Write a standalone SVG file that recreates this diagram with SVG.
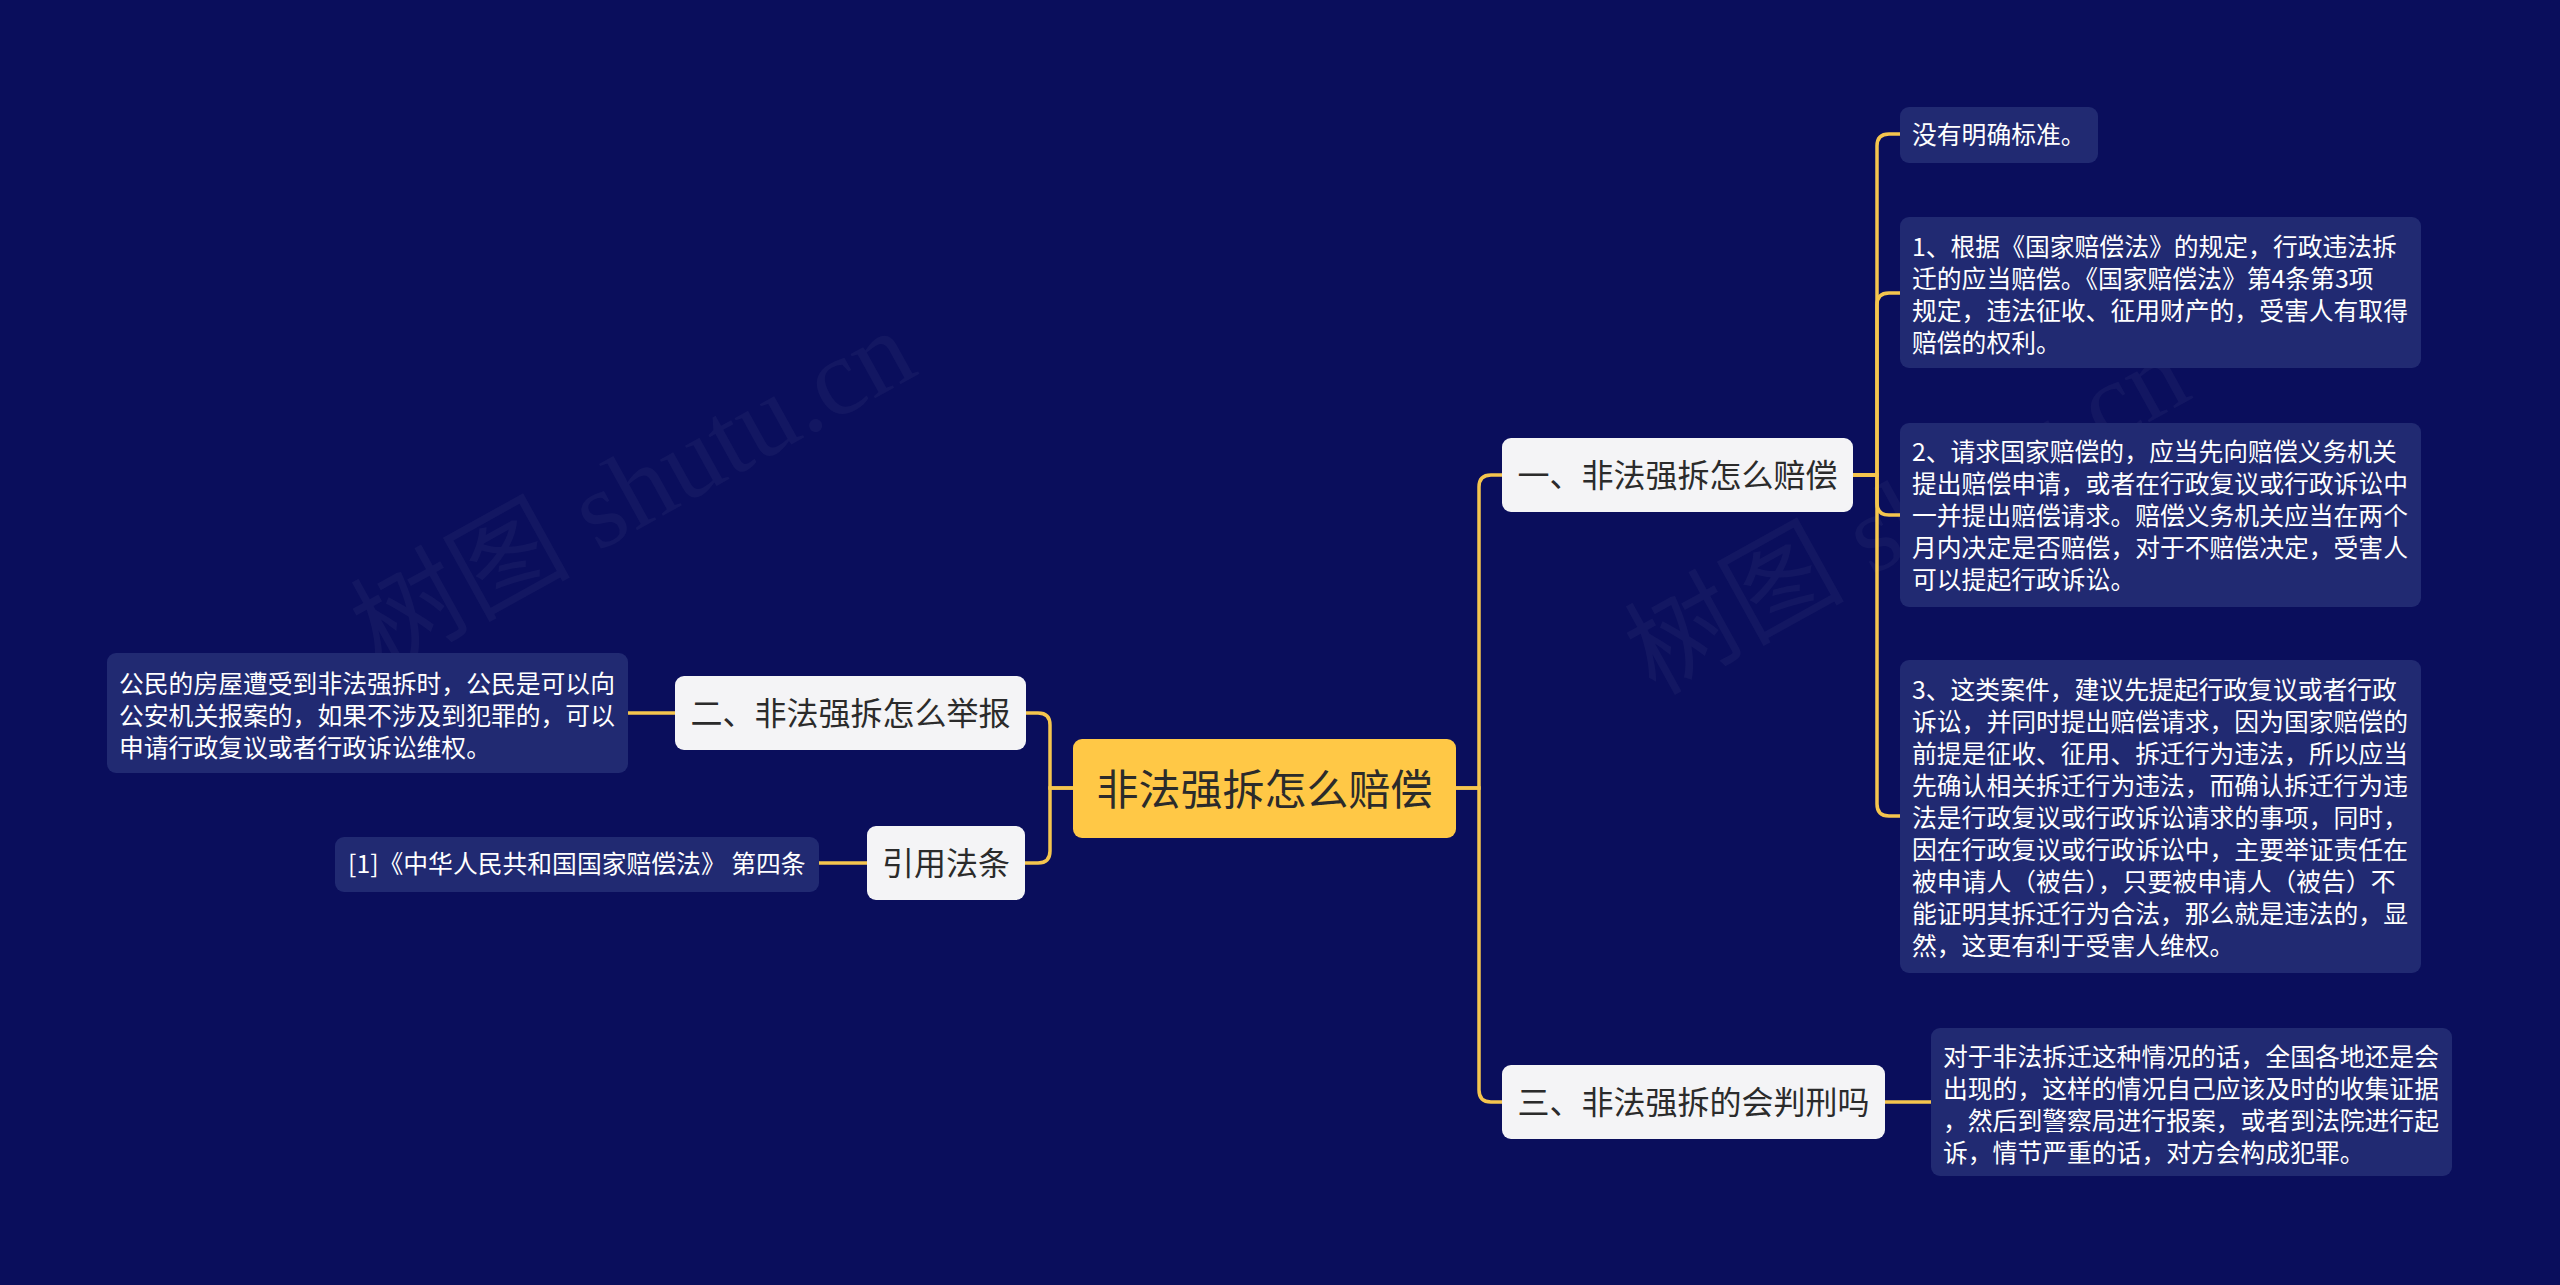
<svg xmlns="http://www.w3.org/2000/svg" width="2560" height="1285" viewBox="0 0 2560 1285">
<defs>
<style>
.bg{fill:#0A0E5C}
.wm{font-family:"Liberation Serif","Noto Sans CJK SC",serif;font-size:110px;fill:#ffffff;fill-opacity:0.04}
.conn path{fill:none;stroke:#F5C54E;stroke-width:3.5;stroke-linecap:round}
.root rect{fill:#FFC846}
.root text{font-family:"Noto Sans CJK SC","Noto Sans",sans-serif;font-size:42px;fill:#2B2B2B;text-anchor:middle;dominant-baseline:central}
.br rect{fill:#F4F4F6}
.br text{font-family:"Noto Sans CJK SC","Noto Sans",sans-serif;font-size:32px;fill:#2B2B2B;text-anchor:middle;dominant-baseline:central}
.lf rect{fill:#212A72}
.lf text{font-family:"Noto Sans CJK SC","Noto Sans",sans-serif;font-size:24.8px;fill:#FFFFFF;dominant-baseline:central}
</style>
</defs>
<rect class="bg" x="0" y="0" width="2560" height="1285"/>
<text class="wm" x="381" y="672" transform="rotate(-29 381 672)">树图 shutu.cn</text>
<text class="wm" x="1655" y="696" transform="rotate(-29 1655 696)">树图 shutu.cn</text>

<g id="connectors" class="conn">
<path d="M1456 788 H1479 V487 Q1479 475 1491 475 H1502"/>
<path d="M1456 788 H1479 V1090 Q1479 1102 1491 1102 H1502"/>
<path d="M1073 788 H1050 V725 Q1050 713 1038 713 H1026"/>
<path d="M1073 788 H1050 V851 Q1050 863 1038 863 H1025"/>
<path d="M1853 475 H1877 V146 Q1877 134 1889 134 H1900"/>
<path d="M1853 475 H1877 V305 Q1877 293 1889 293 H1900"/>
<path d="M1853 475 H1877 V503 Q1877 515 1889 515 H1900"/>
<path d="M1853 475 H1877 V804 Q1877 816 1889 816 H1900"/>
<path d="M1885 1102 H1931"/>
<path d="M675 713 H628"/>
<path d="M867 863 H819"/>
</g>

<g id="root" class="root">
<rect x="1073" y="739" width="383" height="99" rx="9"/>
<text x="1264.5" y="786">非法强拆怎么赔偿</text>
</g>

<g id="b1" class="br">
<rect x="1502" y="438" width="351" height="74" rx="9"/>
<text x="1677.5" y="473">一、非法强拆怎么赔偿</text>
</g>
<g id="b2" class="br">
<rect x="675" y="676" width="351" height="74" rx="9"/>
<text x="850.5" y="711">二、非法强拆怎么举报</text>
</g>
<g id="b3" class="br">
<rect x="1502" y="1065" width="383" height="74" rx="9"/>
<text x="1693.5" y="1100">三、非法强拆的会判刑吗</text>
</g>
<g id="b4" class="br">
<rect x="867" y="826" width="158" height="74" rx="9"/>
<text x="946" y="861">引用法条</text>
</g>

<g id="l1" class="lf">
<rect x="1900" y="107" width="198" height="56" rx="9"/>
<text x="1912" y="133">没有明确标准。</text>
</g>
<g id="l2" class="lf">
<rect x="1900" y="217" width="521" height="151" rx="9"/>
<text x="1912" y="245">1、根据《国家赔偿法》的规定，行政违法拆</text>
<text x="1912" y="277">迁的应当赔偿。《国家赔偿法》第4条第3项</text>
<text x="1912" y="309">规定，违法征收、征用财产的，受害人有取得</text>
<text x="1912" y="341">赔偿的权利。</text>
</g>
<g id="l3" class="lf">
<rect x="1900" y="423" width="521" height="184" rx="9"/>
<text x="1912" y="450">2、请求国家赔偿的，应当先向赔偿义务机关</text>
<text x="1912" y="482">提出赔偿申请，或者在行政复议或行政诉讼中</text>
<text x="1912" y="514">一并提出赔偿请求。赔偿义务机关应当在两个</text>
<text x="1912" y="546">月内决定是否赔偿，对于不赔偿决定，受害人</text>
<text x="1912" y="578">可以提起行政诉讼。</text>
</g>
<g id="l4" class="lf">
<rect x="1900" y="660" width="521" height="313" rx="9"/>
<text x="1912" y="688">3、这类案件，建议先提起行政复议或者行政</text>
<text x="1912" y="720">诉讼，并同时提出赔偿请求，因为国家赔偿的</text>
<text x="1912" y="752">前提是征收、征用、拆迁行为违法，所以应当</text>
<text x="1912" y="784">先确认相关拆迁行为违法，而确认拆迁行为违</text>
<text x="1912" y="816">法是行政复议或行政诉讼请求的事项，同时，</text>
<text x="1912" y="848">因在行政复议或行政诉讼中，主要举证责任在</text>
<text x="1912" y="880">被申请人（被告），只要被申请人（被告）不</text>
<text x="1912" y="912">能证明其拆迁行为合法，那么就是违法的，显</text>
<text x="1912" y="944">然，这更有利于受害人维权。</text>
</g>
<g id="l5" class="lf">
<rect x="1931" y="1028" width="521" height="148" rx="9"/>
<text x="1943" y="1055">对于非法拆迁这种情况的话，全国各地还是会</text>
<text x="1943" y="1087">出现的，这样的情况自己应该及时的收集证据</text>
<text x="1943" y="1119">，然后到警察局进行报案，或者到法院进行起</text>
<text x="1943" y="1151">诉，情节严重的话，对方会构成犯罪。</text>
</g>
<g id="l6" class="lf">
<rect x="107" y="653" width="521" height="120" rx="9"/>
<text x="119" y="682">公民的房屋遭受到非法强拆时，公民是可以向</text>
<text x="119" y="714">公安机关报案的，如果不涉及到犯罪的，可以</text>
<text x="119" y="746">申请行政复议或者行政诉讼维权。</text>
</g>
<g id="l7" class="lf">
<rect x="335" y="837" width="484" height="55" rx="9"/>
<text x="348" y="862">[1]《中华人民共和国国家赔偿法》 第四条</text>
</g>
</svg>
